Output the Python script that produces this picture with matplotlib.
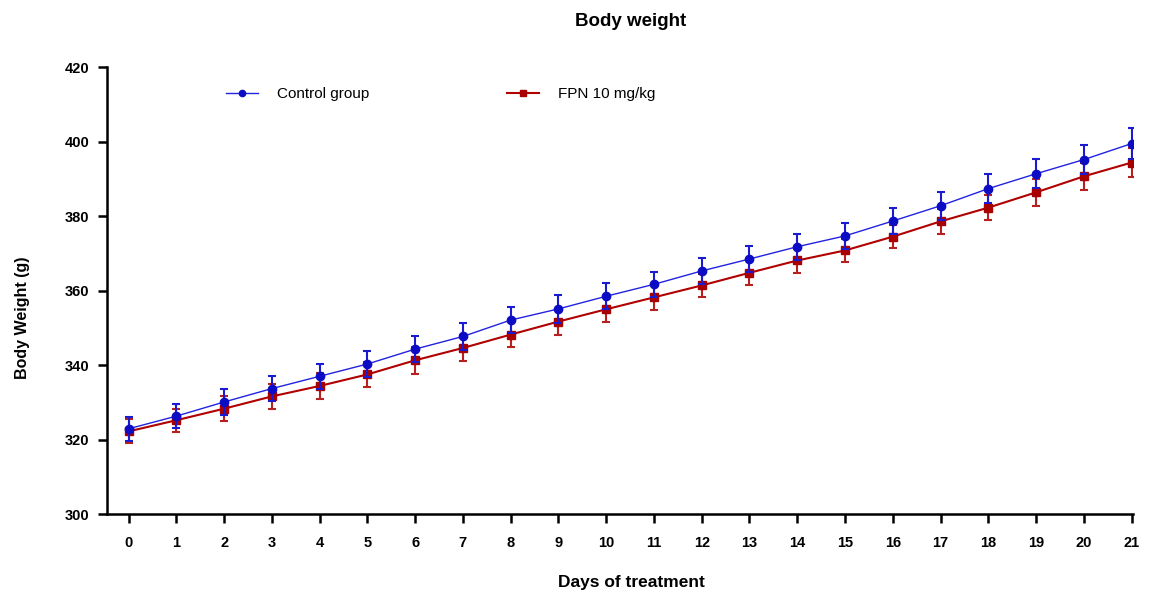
import matplotlib.pyplot as plt
from matplotlib.lines import Line2D

days = list(range(22))

control_mean = [322.9, 326.3, 330.1, 333.7, 337.0, 340.3, 344.3, 347.7, 352.1, 355.1, 358.5,
                361.7, 365.3, 368.5, 371.8, 374.7, 378.7, 382.8, 387.4, 391.4, 395.2, 399.5]
control_sem = [3.2, 3.3, 3.5, 3.3, 3.4, 3.4, 3.5, 3.7, 3.6, 3.7, 3.5,
               3.4, 3.5, 3.4, 3.5, 3.6, 3.6, 3.8, 3.9, 3.9, 3.9, 4.1]

fpn_mean = [322.2, 325.2, 328.3, 331.6, 334.4, 337.5, 341.3, 344.6, 348.2, 351.7, 355.0,
            358.2, 361.4, 364.8, 368.1, 370.8, 374.5, 378.6, 382.3, 386.4, 390.7, 394.4]
fpn_sem = [3.2, 3.1, 3.3, 3.4, 3.4, 3.4, 3.6, 3.4, 3.4, 3.5, 3.5,
           3.4, 3.2, 3.3, 3.3, 3.2, 3.1, 3.3, 3.3, 3.6, 3.7, 3.9]

y_ticks = [300, 320, 340, 360, 380, 400, 420]

plt.rcParams['font.family'] = ['Liberation Sans', 'DejaVu Sans']

figure = plt.figure(figsize=(11.51, 5.95), dpi=100)
ax = figure.add_axes([0.093, 0.136, 0.891, 0.751])

blue_line = "#2222e0"
blue_mark = "#0c0cc4"
red_line = "#b00000"
red_mark = "#a80000"

ax.errorbar(days, fpn_mean, yerr=fpn_sem,
            color=red_line, linewidth=1.5,
            marker='s', markersize=5.5, markerfacecolor=red_mark, markeredgecolor=red_mark,
            ecolor="#b82020", elinewidth=1.5, capsize=3, capthick=1.5, zorder=3)

ax.errorbar(days, control_mean, yerr=control_sem,
            color=blue_line, linewidth=1.0,
            marker='o', markersize=6, markerfacecolor=blue_mark, markeredgecolor=blue_mark,
            ecolor="#1a1ad0", elinewidth=1.5, capsize=3, capthick=1.5, zorder=4)

ax.set_xlim(-0.45, 21.02)
ax.set_ylim(300, 420)
ax.set_xticks(days)
ax.set_yticks(y_ticks)

for side in ['top', 'right']:
    ax.spines[side].set_visible(False)
for side in ['left', 'bottom']:
    ax.spines[side].set_linewidth(1.8)

ax.tick_params(axis='both', direction='out', length=6.5, width=1.8, labelsize=10.5)
ax.tick_params(axis='x', pad=9)
ax.tick_params(axis='y', pad=6)
for lab in ax.get_xticklabels() + ax.get_yticklabels():
    lab.set_fontweight('bold')

ax.set_xlabel("Days of treatment", fontsize=12.5, fontweight='bold', va='center')
ax.xaxis.set_label_coords(0.511, -0.152)
ax.set_ylabel("Body Weight (g)", fontsize=11.5, fontweight='bold', va='center')
ax.yaxis.set_label_coords(-0.082, 0.44)
ax.text(0.511, 1.103, "Body weight", transform=ax.transAxes, ha='center', va='center',
        fontsize=13.5, fontweight='bold')

handles = [
    Line2D([], [], color=blue_line, linewidth=1.0, marker='o', markersize=4.5,
           markerfacecolor=blue_mark, markeredgecolor=blue_mark),
    Line2D([], [], color=red_line, linewidth=1.5, marker='s', markersize=4.5,
           markerfacecolor=red_mark, markeredgecolor=red_mark),
]
ax.legend(handles, ["Control group", "FPN 10 mg/kg"], loc='center left',
          bbox_to_anchor=(0.110, 0.940), ncol=2, frameon=False, fontsize=11,
          handlelength=2.1, handletextpad=1.25, columnspacing=9.0, borderaxespad=0)

figure.savefig("out.png", dpi=100)
plt.close(figure)
